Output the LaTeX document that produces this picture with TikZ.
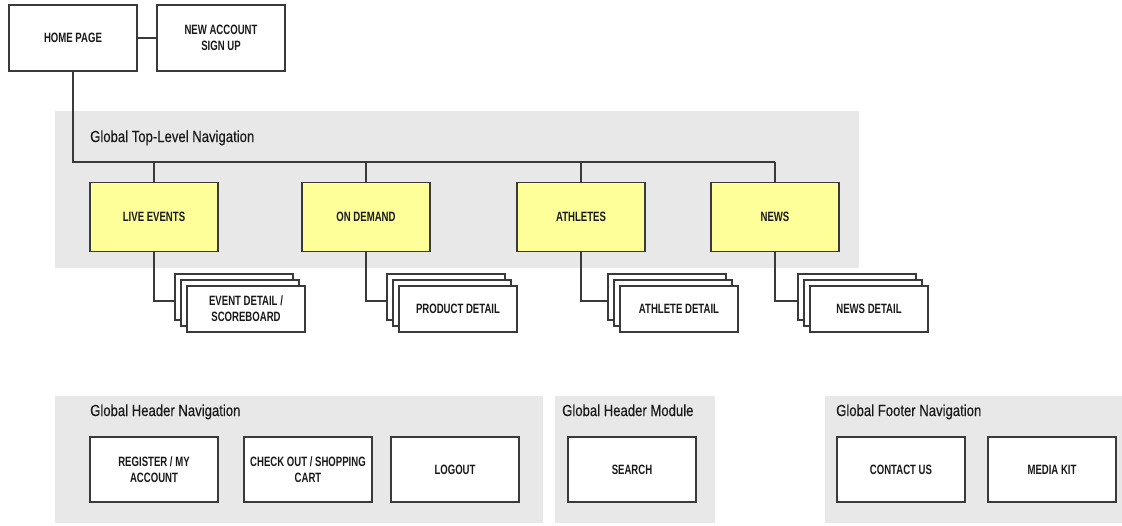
\documentclass[tikz,border=0pt]{standalone}
\usepackage{fontspec}
\setmainfont{Liberation Sans}
\newfontfamily\boxfont[FakeStretch=0.71]{Liberation Sans}
\newfontfamily\titlefont[FakeStretch=0.82,FakeBold=0.3]{Liberation Sans}
\usetikzlibrary{calc,positioning}
\definecolor{panelgray}{HTML}{E8E8E8}
\definecolor{menuyellow}{HTML}{FFFF99}
\definecolor{linegray}{HTML}{3A3A3A}
\begin{document}
\begin{tikzpicture}[x=1pt, y=-1pt,
    every node/.style={font=\boxfont\bfseries\fontsize{13.5}{16}\selectfont, align=center, inner sep=0pt, text=black!90},
    page/.style={draw=linegray, fill=white, line width=1.1pt, minimum width=128pt, minimum height=66pt},
    menu/.style={page, fill=menuyellow, minimum height=69pt},
    card/.style={page, minimum width=118pt, minimum height=46pt},
    panel/.style={fill=panelgray},
    paneltitle/.style={font=\titlefont\fontsize{16}{18}\selectfont, anchor=base west},
    link/.style={draw=linegray, line width=1.1pt}]
    \useasboundingbox (0,0) rectangle (1122,525);

    % --- Home page ---
    \node[page] (home) at (73,38) {HOME PAGE};
    \node[page] (signup) at (221,38) {NEW ACCOUNT\\SIGN UP};
    \draw[link] (home) -- (signup);

    % --- Global top-level navigation ---
    \fill[panel] (55,111) rectangle (859,268);
    \node[paneltitle] (toptitle) at (90,142) {Global Top-Level Navigation};
    \coordinate (bus) at (0,162);

    % Formaat: naam / x-positie / afstand tot kaarten / menu / detail
    \foreach \id/\x/\gap/\menu/\detail in {live/154/21/LIVE EVENTS/{EVENT DETAIL /\\SCOREBOARD},
        demand/366/21/ON DEMAND/PRODUCT DETAIL, athletes/581/27/ATHLETES/ATHLETE DETAIL,
        news/775/23/NEWS/NEWS DETAIL} {
        \node[menu] (\id) at (\x,217) {\menu};

        % stapel detailkaarten, van achter naar voor
        \node[card] (\id-c1) at (\x+\gap+59,297) {};
        \node[card] (\id-c2) at (\x+\gap+65,303) {};
        \node[card] (\id-c3) at (\x+\gap+71,309) {\detail};

        \draw[link] (bus -| \id.north) -- (\id.north);
        \draw[link] (\id.south) |- ([yshift=-4pt]\id-c1.west);
      }
    \draw[link] (home.south) |- (bus -| news.north);

    % --- Header, module en footer ---
    \fill[panel] (55,396) rectangle (543,523);
    \fill[panel] (555,396) rectangle (715,523);
    \fill[panel] (825,396) rectangle (1122,523);
    \node[paneltitle] (headtitle) at (90,416) {Global Header Navigation};
    \node[paneltitle] (moduletitle) at (562,416) {Global Header Module};
    \node[paneltitle] (foottitle) at (836,416) {Global Footer Navigation};

    \foreach \id/\x/\txt in {register/154/{REGISTER / MY\\ACCOUNT}, checkout/308/{CHECK OUT / SHOPPING\\CART},
        logout/455/LOGOUT, search/632/SEARCH, contact/901/CONTACT US, mediakit/1052/MEDIA KIT} {
        \node[page, minimum height=65pt] (\id) at (\x,469.5) {\txt};
      }

  \end{tikzpicture}
\end{document}
